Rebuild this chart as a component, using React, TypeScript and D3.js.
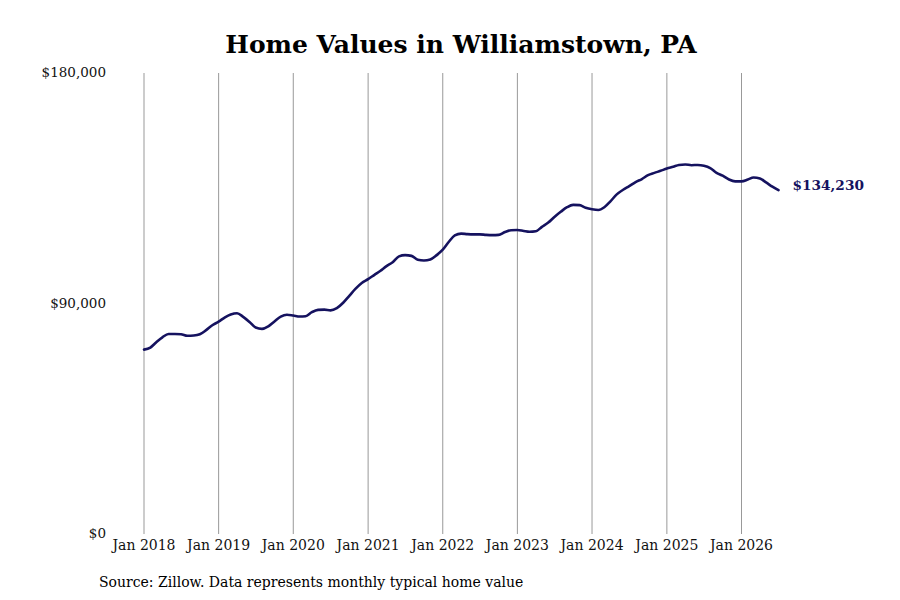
import React from "react";
import * as d3 from "d3";

const startYear = 2018;
const startMonth = 0;
const values: number[] = [
  72.0, 72.8, 74.8, 76.8, 78.1, 78.1, 78.0, 77.4, 77.5, 78.0, 79.6, 81.5,
  82.9, 84.6, 85.7, 86.2, 84.8, 82.8, 80.6, 80.1, 81.1, 83.0, 84.9, 85.6,
  85.3, 84.9, 85.0, 86.6, 87.5, 87.6, 87.3, 88.2, 90.3, 93.0, 95.8, 98.0,
  99.5, 101.2, 102.7, 104.6, 106.1, 108.4, 108.9, 108.6, 107.1, 106.8, 107.2, 108.8,
  111.0, 114.2, 116.6, 117.3, 117.1, 117.0, 117.0, 116.8, 116.7, 116.8, 117.9, 118.6,
  118.7, 118.3, 118.0, 118.2, 119.9, 121.6, 123.8, 125.8, 127.6, 128.5, 128.4, 127.4,
  126.8, 126.5, 127.6, 130.0, 132.6, 134.4, 135.8, 137.4, 138.6, 140.1, 141.0, 141.8,
  142.7, 143.4, 144.1, 144.3, 144.0, 144.1, 143.8, 142.9, 141.0, 139.9, 138.4, 137.7,
  137.7, 138.4, 139.2, 138.8, 137.3, 135.6, 134.23,
].map((v) => v * 1000);

const yTicks = [0, 90000, 180000];
const xTickYears = [2018, 2019, 2020, 2021, 2022, 2023, 2024, 2025, 2026];
const title = "Home Values in Williamstown, PA";
const source = "Source: Zillow. Data represents monthly typical home value";
const lastLabel = "$134,230";

const data = values.map((v, i) => ({
  date: new Date(startYear, startMonth + i, 1),
  value: v,
}));

export default function App() {
  const W = 900;
  const H = 600;
  const font = "'DejaVu Serif', serif";
  const x = d3
    .scaleTime()
    .domain([new Date(2018, 0, 1), new Date(2026, 0, 1)])
    .range([144, 741.5]);
  const y = d3.scaleLinear().domain([0, 180000]).range([534, 73]);
  const line = d3
    .line<{ date: Date; value: number }>()
    .x((d) => x(d.date))
    .y((d) => y(d.value))
    .curve(d3.curveMonotoneX);
  const fmt = d3.format("$,.0f");
  const last = data[data.length - 1];
  const color = "#15125f";

  return (
    <svg
      width={W}
      height={H}
      style={{ position: "absolute", left: 0, top: 0, background: "#fff" }}
    >
      <rect width={W} height={H} fill="#fff" />
      <text
        x={461}
        y={53}
        textAnchor="middle"
        fontFamily={font}
        fontWeight="bold"
        fontSize={25}
        fill="#000"
      >
        {title}
      </text>
      {xTickYears.map((yr) => {
        const xx = x(new Date(yr, 0, 1));
        return (
          <g key={yr}>
            <line x1={xx} x2={xx} y1={73} y2={534} stroke="#999" strokeWidth={1} />
            <text
              x={xx}
              y={550}
              textAnchor="middle"
              fontFamily={font}
              fontSize={14}
              fill="#111"
            >
              {`Jan ${yr}`}
            </text>
          </g>
        );
      })}
      {yTicks.map((t) => (
        <text
          key={t}
          x={106}
          y={y(t)}
          dy="0.32em"
          textAnchor="end"
          fontFamily={font}
          fontSize={13.5}
          fill="#111"
        >
          {fmt(t)}
        </text>
      ))}
      <path
        d={line(data) || ""}
        fill="none"
        stroke={color}
        strokeWidth={2.6}
        strokeLinejoin="round"
        strokeLinecap="round"
      />
      <text
        x={x(last.date) + 14}
        y={y(last.value) - 5}
        dy="0.32em"
        fontFamily={font}
        fontWeight="bold"
        fontSize={13.7}
        fill={color}
      >
        {lastLabel}
      </text>
      <text x={99} y={587} fontFamily={font} fontSize={14} fill="#000">
        {source}
      </text>
    </svg>
  );
}
